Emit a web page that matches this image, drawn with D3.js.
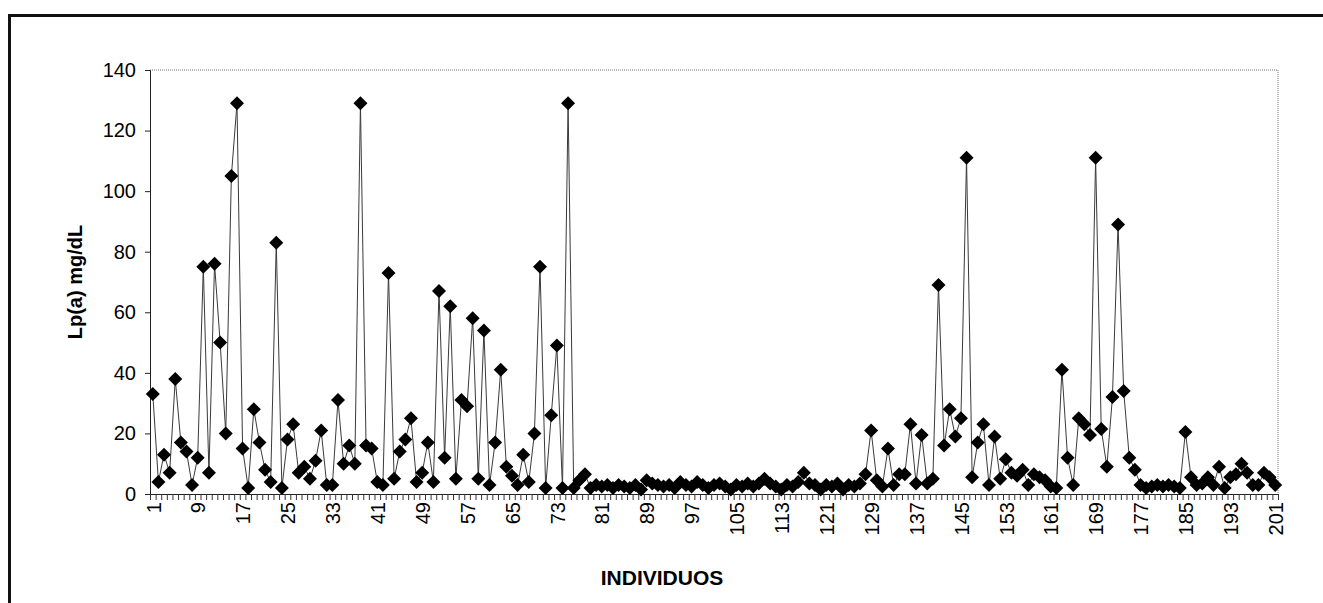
<!DOCTYPE html>
<html lang="es">
<head>
  <meta charset="UTF-8" />
  <title>Lp(a) por individuo</title>
  <script src="https://cdn.jsdelivr.net/npm/d3@7/dist/d3.min.js"></script>
  <style>
    body { margin: 0; background: #fff; }
    text { font-family: "Liberation Sans", Arial, sans-serif; fill: #000; }
  </style>
</head>
<body>
  <script>
    // Lp(a) mg/dL per individual
    var lpa = [
      33, 4, 13, 7, 38, 17, 14, 3, 12, 75,        // 1-10
      7, 76, 50, 20, 105, 129, 15, 2, 28, 17,     // 11-20
      8, 4, 83, 2, 18, 23, 7, 9, 5, 11,           // 21-30
      21, 3, 3, 31, 10, 16, 10, 129, 16, 15,      // 31-40
      4, 3, 73, 5, 14, 18, 25, 4, 7, 17,          // 41-50
      4, 67, 12, 62, 5, 31, 29, 58, 5, 54,        // 51-60
      3, 17, 41, 9, 6, 3, 13, 4, 20, 75,          // 61-70
      2, 26, 49, 2, 129, 2, 4.5, 6.5, 2, 3,       // 71-80
      2.5, 3, 2, 3, 2.5, 2, 3, 1.5, 4.5, 3.5,     // 81-90
      3, 2.5, 3, 2, 4, 3, 2.5, 4, 3, 2,           // 91-100
      3, 3.5, 2.5, 1.5, 3, 2.5, 3.5, 2.5, 3.5, 5, // 101-110
      3.5, 2.5, 1.5, 3, 2.5, 4, 7, 3.5, 3, 1.5,   // 111-120
      3, 2.5, 3.5, 1.5, 3, 2.5, 3.5, 6.5, 21, 4.5,// 121-130
      2.5, 15, 3, 6.5, 6.5, 23, 3.5, 19.5, 3.5, 5,// 131-140
      69, 16, 28, 19, 25, 111, 5.5, 17, 23, 3,    // 141-150
      19, 5, 11.5, 7, 6, 8, 3, 6.5, 5.5, 4.5,     // 151-160
      2.5, 2, 41, 12, 3, 25, 23, 19.5, 111, 21.5, // 161-170
      9, 32, 89, 34, 12, 8, 3, 2, 2.5, 3,         // 171-180
      2.5, 3, 2.5, 2, 20.5, 5.5, 3, 3.5, 5.5, 3,  // 181-190
      9, 2, 5.5, 6.5, 10, 7, 3, 3, 7, 5.5,        // 191-200
      3                                           // 201
    ];
    var individuals = d3.range(1, lpa.length + 1);
    var xLabels = [1, 9, 17, 25, 33, 41, 49, 57, 65, 73, 81, 89, 97, 105, 113, 121,
      129, 137, 145, 153, 161, 169, 177, 185, 193, 201];
    var yTicks = [0, 20, 40, 60, 80, 100, 120, 140];

    var W = 1323, H = 603;
    // plot area (note: "top" is taken by window.top)
    var pLeft = 150, pRight = 1278, pTop = 70, pBottom = 494;

    var svg = d3.select("body").append("svg")
      .attr("width", W)
      .attr("height", H);

    // outer frame of the figure
    svg.append("rect")
      .attr("x", 9.5).attr("y", 15.5)
      .attr("width", W + 20).attr("height", H + 20)
      .attr("fill", "none")
      .attr("stroke", "#111")
      .attr("stroke-width", 3);

    var x = d3.scaleLinear().domain([0.5, individuals.length + 0.5]).range([pLeft, pRight]);
    var y = d3.scaleLinear().domain([0, 140]).range([pBottom, pTop]);

    // plot area border (dotted top and right)
    svg.append("path")
      .attr("d", "M" + pLeft + "," + pTop + "H" + pRight + "V" + pBottom)
      .attr("fill", "none")
      .attr("stroke", "#777")
      .attr("stroke-width", 1)
      .attr("stroke-dasharray", "1,1");

    // y axis
    var yAxis = svg.append("g")
      .attr("transform", "translate(" + pLeft + ",0)")
      .call(d3.axisLeft(y).tickValues(yTicks).tickSize(5).tickPadding(9));
    yAxis.select(".domain").attr("stroke", "#222");
    yAxis.selectAll(".tick line").attr("stroke", "#222");
    yAxis.selectAll("text")
      .attr("font-size", "20px")
      .attr("font-family", "Liberation Sans, Arial, sans-serif")
      .attr("fill", "#000");

    // x axis: ticks between categories
    var bounds = d3.range(0, individuals.length + 1).map(function(k) { return k + 0.5; });
    var xAxis = svg.append("g")
      .attr("transform", "translate(0," + pBottom + ")")
      .call(d3.axisBottom(x).tickValues(bounds).tickFormat("").tickSize(6).tickSizeOuter(0));
    xAxis.select(".domain").attr("stroke", "#222");
    xAxis.selectAll(".tick line").attr("stroke", "#333");

    // x labels, vertical
    var xLab = svg.append("g")
      .attr("transform", "translate(0," + pBottom + ")")
      .call(d3.axisBottom(x).tickValues(xLabels).tickSize(0));
    xLab.select(".domain").remove();
    xLab.selectAll("text")
      .attr("font-size", "20px")
      .attr("font-family", "Liberation Sans, Arial, sans-serif")
      .attr("fill", "#000")
      .attr("transform", "rotate(-90)")
      .attr("text-anchor", "end")
      .attr("x", -8)
      .attr("y", 0)
      .attr("dy", "0.36em");

    // line
    var line = d3.line()
      .x(function(d, i) { return x(individuals[i]); })
      .y(function(d) { return y(d); });

    svg.append("path")
      .datum(lpa)
      .attr("d", line)
      .attr("fill", "none")
      .attr("stroke", "#3a3a3a")
      .attr("stroke-width", 1);

    // diamond markers
    var diamond = d3.symbol().type(d3.symbolSquare).size(98);
    svg.append("g")
      .selectAll("path")
      .data(lpa)
      .enter()
      .append("path")
      .attr("d", diamond)
      .attr("transform", function(d, i) {
        return "translate(" + x(individuals[i]) + "," + y(d) + ") rotate(45)";
      })
      .attr("fill", "#000");

    // axis titles
    svg.append("text")
      .attr("transform", "translate(82," + ((pTop + pBottom) / 2) + ") rotate(-90)")
      .attr("text-anchor", "middle")
      .attr("font-size", "20px")
      .attr("font-weight", "bold")
      .text("Lp(a) mg/dL");

    svg.append("text")
      .attr("x", 662)
      .attr("y", 585)
      .attr("text-anchor", "middle")
      .attr("font-size", "21px")
      .attr("font-weight", "bold")
      .text("INDIVIDUOS");
  </script>
</body>
</html>
